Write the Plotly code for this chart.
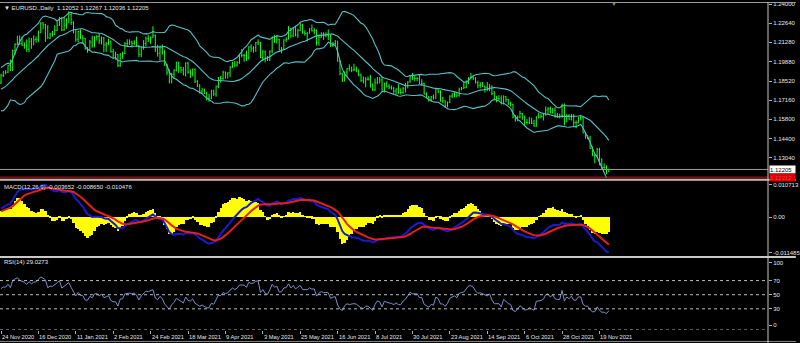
import math
import plotly.graph_objects as go

# ---------------- data (EURUSD., Daily) ----------------
# closes before the visible window (history used by the indicators only)
warmup_close = [
    1.1910, 1.1855, 1.1850, 1.1840, 1.1815, 1.1780, 1.1800, 1.1815, 1.1845, 1.1865,
    1.1845, 1.1815, 1.1850, 1.1840, 1.1770, 1.1705, 1.1660, 1.1670, 1.1630, 1.1665,
    1.1745, 1.1720,
    1.1745, 1.1715, 1.1780, 1.1735, 1.1760, 1.1765, 1.1825, 1.1815, 1.1745, 1.1745,
    1.1705, 1.1715, 1.1770, 1.1825, 1.1860, 1.1815, 1.1860, 1.1810, 1.1795, 1.1745,
    1.1675, 1.1645, 1.1640, 1.1715, 1.1720, 1.1825, 1.1875, 1.1815, 1.1810, 1.1740,
    1.1810, 1.1835, 1.1855, 1.1860, 1.1850, 1.1870, 1.1855, 1.1840,
]

# visible bars: 24 Nov 2020 ... 25 Nov 2021
bar_open = [
    1.1840, 1.1890, 1.1914, 1.1915,
    1.1962, 1.1927, 1.2071, 1.2113, 1.2146,
    1.2120, 1.2108, 1.2100, 1.2078, 1.2133,
    1.2110, 1.2147, 1.2150, 1.2197, 1.2267,
    1.2255, 1.2240, 1.2160, 1.2189,
    1.2186, 1.2214, 1.2249, 1.2297,
    1.2216, 1.2250, 1.2297, 1.2326, 1.2270,
    1.2220, 1.2150, 1.2207, 1.2160, 1.2155,
    1.2080, 1.2075, 1.2130, 1.2106, 1.2165,
    1.2170, 1.2140, 1.2160, 1.2110, 1.2120,
    1.2135, 1.2062, 1.2039, 1.2040, 1.1963,
    1.2045, 1.2050, 1.2120, 1.2120, 1.2130,
    1.2120, 1.2130, 1.2106, 1.2041, 1.2090,
    1.2120, 1.2155, 1.2150, 1.2165, 1.2175,
    1.2075, 1.2050, 1.2090, 1.2060, 1.1965,
    1.1915, 1.1850, 1.1900, 1.1930, 1.1985,
    1.1950, 1.1930, 1.1900, 1.1980, 1.1915,
    1.1905, 1.1935, 1.1850, 1.1815, 1.1780,
    1.1795, 1.1765, 1.1730, 1.1730, 1.1780,
    1.1760, 1.1815, 1.1875, 1.1870, 1.1915,
    1.1900, 1.1910, 1.1950, 1.1980, 1.1965,
    1.1985, 1.2035, 1.2035, 1.2035, 1.2015,
    1.2095, 1.2085, 1.2090, 1.2125, 1.2125,
    1.2020, 1.2060, 1.2015, 1.2005, 1.2065,
    1.2165, 1.2130, 1.2150, 1.2075, 1.2080,
    1.2145, 1.2150, 1.2225, 1.2175, 1.2225,
    1.2180, 1.2215, 1.2250, 1.2195, 1.2190,
    1.2195, 1.2225, 1.2210, 1.2215, 1.2125,
    1.2165, 1.2190, 1.2175, 1.2180, 1.2175,
    1.2105, 1.2120, 1.2125, 1.1995, 1.1905,
    1.1860, 1.1915, 1.1940, 1.1925, 1.1930,
    1.1935, 1.1925, 1.1895, 1.1857, 1.1845,
    1.1865, 1.1865, 1.1825, 1.1790, 1.1840,
    1.1875, 1.1860, 1.1775, 1.1835, 1.1815,
    1.1805, 1.1800, 1.1780, 1.1795, 1.1770,
    1.1770, 1.1800, 1.1815, 1.1845, 1.1885,
    1.1870, 1.1870, 1.1870, 1.1835, 1.1835,
    1.1760, 1.1735, 1.1720, 1.1740, 1.1730,
    1.1795, 1.1780, 1.1710, 1.1710, 1.1675,
    1.1700, 1.1745, 1.1760, 1.1770, 1.1750,
    1.1795, 1.1800, 1.1807, 1.1840, 1.1875,
    1.1880, 1.1870, 1.1840, 1.1820, 1.1825,
    1.1815, 1.1805, 1.1800, 1.1815, 1.1765,
    1.1725, 1.1727, 1.1725, 1.1690, 1.1740,
    1.1720, 1.1695, 1.1685, 1.1595, 1.1580,
    1.1595, 1.1620, 1.1595, 1.1555, 1.1555,
    1.1570, 1.1550, 1.1530, 1.1595, 1.1595,
    1.1600, 1.1610, 1.1645, 1.1655, 1.1625,
    1.1645, 1.1608, 1.1600, 1.1600, 1.1680,
    1.1560, 1.1605, 1.1580, 1.1610, 1.1555,
    1.1555, 1.1590, 1.1590, 1.1480, 1.1445,
    1.1445, 1.1370, 1.1320, 1.1320, 1.1365,
    1.1290, 1.1235, 1.1235, 1.12052,
]
bar_high = [
    1.1905, 1.1925, 1.1930, 1.1965,
    1.2005, 1.2075, 1.2122, 1.2175, 1.2178,
    1.2168, 1.2128, 1.2148, 1.2163, 1.2160,
    1.2178, 1.2170, 1.2212, 1.2273, 1.2272,
    1.2260, 1.2250, 1.2197, 1.2210,
    1.2250, 1.2276, 1.2310, 1.2310,
    1.2310, 1.2298, 1.2349, 1.2340, 1.2280,
    1.2225, 1.2210, 1.2222, 1.2180, 1.2160,
    1.2094, 1.2145, 1.2175, 1.2172, 1.2180,
    1.2190, 1.2170, 1.2166, 1.2130, 1.2155,
    1.2141, 1.2082, 1.2060, 1.2045, 1.2050,
    1.2061, 1.2130, 1.2150, 1.2150, 1.2140,
    1.2143, 1.2169, 1.2107, 1.2093, 1.2144,
    1.2170, 1.2180, 1.2170, 1.2243, 1.2185,
    1.2110, 1.2105, 1.2113, 1.2075, 1.1975,
    1.1935, 1.1910, 1.1935, 1.1990, 1.1990,
    1.1955, 1.1952, 1.1985, 1.1990, 1.1936,
    1.1942, 1.1942, 1.1858, 1.1830, 1.1800,
    1.1797, 1.1775, 1.1760, 1.1790, 1.1790,
    1.1820, 1.1880, 1.1890, 1.1925, 1.1920,
    1.1915, 1.1960, 1.1990, 1.1995, 1.1995,
    1.2048, 1.2080, 1.2045, 1.2070, 1.2100,
    1.2115, 1.2100, 1.2130, 1.2150, 1.2130,
    1.2075, 1.2070, 1.2030, 1.2070, 1.2170,
    1.2180, 1.2180, 1.2155, 1.2095, 1.2150,
    1.2165, 1.2245, 1.2230, 1.2230, 1.2245,
    1.2225, 1.2266, 1.2260, 1.2215, 1.2200,
    1.2230, 1.2255, 1.2230, 1.2220, 1.2185,
    1.2200, 1.2200, 1.2200, 1.2220, 1.2185,
    1.2130, 1.2145, 1.2140, 1.2000, 1.1912,
    1.1920, 1.1945, 1.1970, 1.1955, 1.1975,
    1.1955, 1.1935, 1.1905, 1.1885, 1.1880,
    1.1885, 1.1895, 1.1835, 1.1870, 1.1880,
    1.1880, 1.1880, 1.1840, 1.1850, 1.1830,
    1.1820, 1.1810, 1.1800, 1.1830, 1.1800,
    1.1810, 1.1840, 1.1850, 1.1895, 1.1910,
    1.1890, 1.1880, 1.1900, 1.1865, 1.1840,
    1.1770, 1.1745, 1.1745, 1.1755, 1.1800,
    1.1800, 1.1785, 1.1740, 1.1715, 1.1705,
    1.1750, 1.1765, 1.1775, 1.1775, 1.1805,
    1.1810, 1.1845, 1.1857, 1.1880, 1.1909,
    1.1885, 1.1880, 1.1855, 1.1845, 1.1845,
    1.1820, 1.1845, 1.1830, 1.1820, 1.1780,
    1.1745, 1.1750, 1.1750, 1.1750, 1.1745,
    1.1725, 1.1705, 1.1690, 1.1610, 1.1605,
    1.1640, 1.1625, 1.1605, 1.1580, 1.1595,
    1.1590, 1.1575, 1.1600, 1.1625, 1.1620,
    1.1620, 1.1670, 1.1665, 1.1670, 1.1660,
    1.1665, 1.1625, 1.1620, 1.1690, 1.1692,
    1.1615, 1.1615, 1.1615, 1.1615, 1.1570,
    1.1595, 1.1610, 1.1595, 1.1485, 1.1465,
    1.1460, 1.1385, 1.1330, 1.1375, 1.1375,
    1.1300, 1.1265, 1.1250, 1.12267,
]
bar_low = [
    1.1830, 1.1880, 1.1900, 1.1910,
    1.1925, 1.1925, 1.2040, 1.2110, 1.2110,
    1.2103, 1.2082, 1.2060, 1.2058, 1.2082,
    1.2110, 1.2125, 1.2130, 1.2195, 1.2221,
    1.2131, 1.2153, 1.2152, 1.2168,
    1.2180, 1.2209, 1.2246, 1.2208,
    1.2211, 1.2225, 1.2264, 1.2252, 1.2192,
    1.2132, 1.2130, 1.2150, 1.2117, 1.2077,
    1.2054, 1.2070, 1.2090, 1.2092, 1.2140,
    1.2116, 1.2113, 1.2058, 1.2060, 1.2107,
    1.2053, 1.2011, 1.2004, 1.1952, 1.1953,
    1.2011, 1.2045, 1.2095, 1.2110, 1.2090,
    1.2110, 1.2100, 1.2022, 1.2023, 1.2075,
    1.2100, 1.2130, 1.2115, 1.2160, 1.2060,
    1.2026, 1.2000, 1.2040, 1.1960, 1.1893,
    1.1835, 1.1836, 1.1870, 1.1920, 1.1910,
    1.1910, 1.1892, 1.1884, 1.1905, 1.1873,
    1.1885, 1.1838, 1.1808, 1.1762, 1.1760,
    1.1760, 1.1712, 1.1704, 1.1722, 1.1745,
    1.1740, 1.1800, 1.1840, 1.1860, 1.1868,
    1.1870, 1.1880, 1.1945, 1.1950, 1.1955,
    1.1975, 1.2020, 1.1990, 1.1995, 1.2005,
    1.2060, 1.2055, 1.2060, 1.2110, 1.2015,
    1.1995, 1.1985, 1.1995, 1.1995, 1.2050,
    1.2125, 1.2120, 1.2070, 1.2050, 1.2075,
    1.2130, 1.2150, 1.2160, 1.2165, 1.2170,
    1.2160, 1.2210, 1.2190, 1.2175, 1.2135,
    1.2190, 1.2205, 1.2185, 1.2105, 1.2105,
    1.2160, 1.2145, 1.2165, 1.2145, 1.2095,
    1.2095, 1.2105, 1.1990, 1.1893, 1.1845,
    1.1848, 1.1880, 1.1925, 1.1915, 1.1922,
    1.1915, 1.1885, 1.1845, 1.1835, 1.1807,
    1.1855, 1.1805, 1.1780, 1.1780, 1.1830,
    1.1835, 1.1775, 1.1770, 1.1805, 1.1795,
    1.1790, 1.1755, 1.1752, 1.1760, 1.1755,
    1.1760, 1.1770, 1.1800, 1.1840, 1.1860,
    1.1850, 1.1850, 1.1830, 1.1820, 1.1755,
    1.1730, 1.1705, 1.1705, 1.1720, 1.1725,
    1.1765, 1.1705, 1.1695, 1.1665, 1.1664,
    1.1695, 1.1730, 1.1735, 1.1735, 1.1740,
    1.1785, 1.1795, 1.1800, 1.1830, 1.1865,
    1.1860, 1.1835, 1.1800, 1.1800, 1.1810,
    1.1770, 1.1780, 1.1780, 1.1750, 1.1715,
    1.1700, 1.1715, 1.1685, 1.1685, 1.1700,
    1.1680, 1.1670, 1.1585, 1.1562, 1.1565,
    1.1585, 1.1575, 1.1530, 1.1540, 1.1545,
    1.1545, 1.1525, 1.1525, 1.1585, 1.1585,
    1.1570, 1.1605, 1.1615, 1.1620, 1.1620,
    1.1590, 1.1590, 1.1585, 1.1590, 1.1535,
    1.1560, 1.1575, 1.1570, 1.1530, 1.1515,
    1.1550, 1.1570, 1.1480, 1.1440, 1.1435,
    1.1370, 1.1315, 1.1265, 1.1305, 1.1250,
    1.1225, 1.1225, 1.1186, 1.12036,
]
bar_close = [
    1.1890, 1.1914, 1.1915, 1.1962,
    1.1927, 1.2071, 1.2113, 1.2146, 1.2120,
    1.2108, 1.2100, 1.2078, 1.2133, 1.2110,
    1.2147, 1.2150, 1.2197, 1.2267, 1.2255,
    1.2240, 1.2160, 1.2189, 1.2186,
    1.2214, 1.2249, 1.2297, 1.2216,
    1.2250, 1.2297, 1.2326, 1.2270, 1.2220,
    1.2150, 1.2207, 1.2160, 1.2155, 1.2080,
    1.2075, 1.2130, 1.2106, 1.2165, 1.2170,
    1.2140, 1.2160, 1.2110, 1.2120, 1.2135,
    1.2062, 1.2039, 1.2040, 1.1963, 1.2045,
    1.2050, 1.2120, 1.2120, 1.2130, 1.2120,
    1.2130, 1.2106, 1.2041, 1.2090, 1.2120,
    1.2155, 1.2150, 1.2165, 1.2175, 1.2075,
    1.2050, 1.2090, 1.2060, 1.1965, 1.1915,
    1.1850, 1.1900, 1.1930, 1.1985, 1.1950,
    1.1930, 1.1900, 1.1980, 1.1915, 1.1905,
    1.1935, 1.1850, 1.1815, 1.1780, 1.1795,
    1.1765, 1.1730, 1.1730, 1.1780, 1.1760,
    1.1815, 1.1875, 1.1870, 1.1915, 1.1900,
    1.1910, 1.1950, 1.1980, 1.1965, 1.1985,
    1.2035, 1.2035, 1.2035, 1.2015, 1.2095,
    1.2085, 1.2090, 1.2125, 1.2125, 1.2020,
    1.2060, 1.2015, 1.2005, 1.2065, 1.2165,
    1.2130, 1.2150, 1.2075, 1.2080, 1.2145,
    1.2150, 1.2225, 1.2175, 1.2225, 1.2180,
    1.2215, 1.2250, 1.2195, 1.2190, 1.2195,
    1.2225, 1.2210, 1.2215, 1.2125, 1.2165,
    1.2190, 1.2175, 1.2180, 1.2175, 1.2105,
    1.2120, 1.2125, 1.1995, 1.1905, 1.1860,
    1.1915, 1.1940, 1.1925, 1.1930, 1.1935,
    1.1925, 1.1895, 1.1857, 1.1845, 1.1865,
    1.1865, 1.1825, 1.1790, 1.1840, 1.1875,
    1.1860, 1.1775, 1.1835, 1.1815, 1.1805,
    1.1800, 1.1780, 1.1795, 1.1770, 1.1770,
    1.1800, 1.1815, 1.1845, 1.1885, 1.1870,
    1.1870, 1.1870, 1.1835, 1.1835, 1.1760,
    1.1735, 1.1720, 1.1740, 1.1730, 1.1795,
    1.1780, 1.1710, 1.1710, 1.1675, 1.1700,
    1.1745, 1.1760, 1.1770, 1.1750, 1.1795,
    1.1800, 1.1807, 1.1840, 1.1875, 1.1880,
    1.1870, 1.1840, 1.1820, 1.1825, 1.1815,
    1.1805, 1.1800, 1.1815, 1.1765, 1.1725,
    1.1727, 1.1725, 1.1690, 1.1740, 1.1720,
    1.1695, 1.1685, 1.1595, 1.1580, 1.1595,
    1.1620, 1.1595, 1.1555, 1.1555, 1.1570,
    1.1550, 1.1530, 1.1595, 1.1595, 1.1600,
    1.1610, 1.1645, 1.1655, 1.1625, 1.1645,
    1.1608, 1.1600, 1.1600, 1.1680, 1.1560,
    1.1605, 1.1580, 1.1610, 1.1555, 1.1555,
    1.1590, 1.1590, 1.1480, 1.1445, 1.1445,
    1.1370, 1.1320, 1.1320, 1.1365, 1.1290,
    1.1235, 1.1235, 1.1195, 1.12205,
]

# time-axis labels (bar index -> date text)
date_tick_index = [0, 16, 32, 48, 64, 80, 96, 112, 128, 144, 160, 176, 192, 208, 224, 240, 256]
date_tick_text = ["24 Nov 2020", "16 Dec 2020", "11 Jan 2021", "2 Feb 2021", "24 Feb 2021",
                  "18 Mar 2021", "9 Apr 2021", "3 May 2021", "25 May 2021", "16 Jun 2021",
                  "8 Jul 2021", "30 Jul 2021", "23 Aug 2021", "14 Sep 2021", "6 Oct 2021",
                  "28 Oct 2021", "19 Nov 2021"]

price_tick_values = [1.24000, 1.22640, 1.21280, 1.19880, 1.18520, 1.17160, 1.15800, 1.14400, 1.13040]
price_tick_text = ["1.24000", "1.22640", "1.21280", "1.19880", "1.18520", "1.17160", "1.15800", "1.14400", "1.13040"]
macd_scale_max = 0.010713
macd_scale_min = -0.011485
rsi_levels = [70, 50, 30]
bid_price = 1.12205
ask_text = "1.12212"

title_text = "EURUSD.,Daily  1.12052 1.12267 1.12036 1.12205"
macd_text = "MACD(12,26,9) -0.003652 -0.008650 -0.010476"
rsi_text = "RSI(14) 29.0273"

# ---------------- indicators (computed from the closes) ----------------
all_close = warmup_close + bar_close
n_warm = len(warmup_close)
n_bars = len(bar_close)
xs = list(range(n_bars))


def ema(series, period):
    a = 2.0 / (period + 1)
    out = [series[0]]
    for v in series[1:]:
        out.append(out[-1] + a * (v - out[-1]))
    return out


bb_mid, bb_up, bb_lo = [], [], []
for i in range(len(all_close)):
    if i < 19:
        bb_mid.append(None); bb_up.append(None); bb_lo.append(None)
        continue
    w = all_close[i - 19:i + 1]
    m = sum(w) / 20.0
    sd = math.sqrt(sum((v - m) ** 2 for v in w) / 20.0)
    bb_mid.append(m); bb_up.append(m + 2 * sd); bb_lo.append(m - 2 * sd)

e12 = ema(all_close, 12)
e26 = ema(all_close, 26)
macd_line = [a - b for a, b in zip(e12, e26)]
signal_line = ema(macd_line, 9)
hist = [2 * (a - b) for a, b in zip(macd_line, signal_line)]

rsi = [None] * len(all_close)
gains = [max(all_close[i] - all_close[i - 1], 0) for i in range(1, len(all_close))]
losses = [max(all_close[i - 1] - all_close[i], 0) for i in range(1, len(all_close))]
ag = sum(gains[:14]) / 14.0
al = sum(losses[:14]) / 14.0
rsi[14] = 100 - 100 / (1 + ag / al) if al > 0 else 100
for i in range(14, len(gains)):
    ag = (ag * 13 + gains[i]) / 14.0
    al = (al * 13 + losses[i]) / 14.0
    rsi[i + 1] = 100 - 100 / (1 + ag / al) if al > 0 else 100

vis = slice(n_warm, n_warm + n_bars)

# ---------------- figure ----------------
FONT = "Liberation Sans"
TXT = "#e6e6e6"
BB_COLOR = "#55c0c8"

fig = go.Figure()
fig.add_trace(go.Scatter(x=xs, y=bb_up[vis], mode="lines", line=dict(color=BB_COLOR, width=1.1), yaxis="y", hoverinfo="skip"))
fig.add_trace(go.Scatter(x=xs, y=bb_mid[vis], mode="lines", line=dict(color=BB_COLOR, width=1.1), yaxis="y", hoverinfo="skip"))
fig.add_trace(go.Scatter(x=xs, y=bb_lo[vis], mode="lines", line=dict(color=BB_COLOR, width=1.1), yaxis="y", hoverinfo="skip"))
fig.add_trace(go.Ohlc(x=xs, open=bar_open, high=bar_high, low=bar_low, close=bar_close,
                      increasing=dict(line=dict(color="#19ff19", width=1)),
                      decreasing=dict(line=dict(color="#19ff19", width=1)),
                      tickwidth=0.3, yaxis="y", hoverinfo="skip"))

fig.add_trace(go.Bar(x=xs, y=hist[vis], marker=dict(color="#ffff00", line=dict(width=0)),
                     width=1.0, yaxis="y2", hoverinfo="skip"))
fig.add_trace(go.Scatter(x=xs, y=macd_line[vis], mode="lines", line=dict(color="#1a1ad0", width=2), yaxis="y2", hoverinfo="skip"))
fig.add_trace(go.Scatter(x=xs, y=signal_line[vis], mode="lines", line=dict(color="#e61e1e", width=2), yaxis="y2", hoverinfo="skip"))

fig.add_trace(go.Scatter(x=xs, y=rsi[vis], mode="lines", line=dict(color="#7e8ec8", width=1), yaxis="y3", hoverinfo="skip"))

PLOT_H = 330.0


def py(px):
    return (PLOT_H - px) / PLOT_H


axis_common = dict(showgrid=False, zeroline=False, side="right", anchor="x", ticks="outside",
                   ticklen=3, tickcolor="#b0b0b0", tickfont=dict(family=FONT, size=6, color=TXT),
                   showline=False, fixedrange=True, ticklabeloverflow="allow")

shapes = []
for lv in rsi_levels + [0]:
    shapes.append(dict(type="line", xref="paper", x0=0, x1=1, yref="y3", y0=lv, y1=lv,
                       line=dict(color="#bdbdbd", width=1, dash="dot")))
# bid line
shapes.append(dict(type="line", xref="paper", x0=0, x1=1, yref="y", y0=bid_price, y1=bid_price,
                   line=dict(color="#9a9a9a", width=1)))
# red line and window separators
shapes.append(dict(type="line", xref="paper", x0=0, x1=1, yref="paper", y0=py(176.2), y1=py(176.2),
                   line=dict(color="#c81818", width=1)))
shapes.append(dict(type="line", xref="paper", x0=0, x1=800 / 772, yref="paper", y0=py(178.8), y1=py(178.8),
                   line=dict(color="#d2b4b4", width=2)))
shapes.append(dict(type="line", xref="paper", x0=0, x1=800 / 772, yref="paper", y0=py(256.6), y1=py(256.6),
                   line=dict(color="#c8c8c8", width=2)))
shapes.append(dict(type="line", xref="paper", x0=0, x1=800 / 772, yref="paper", y0=py(0.5), y1=py(0.5),
                   line=dict(color="#9c9c9c", width=1)))
shapes.append(dict(type="line", xref="paper", x0=0, x1=800 / 772, yref="paper", y0=py(341.5), y1=py(341.5),
                   line=dict(color="#8c8c8c", width=1)))
# right scale line
shapes.append(dict(type="line", xref="paper", x0=1, x1=1, yref="paper", y0=py(343), y1=1,
                   line=dict(color="#c8c8c8", width=1)))

annotations = []
for idx, txt in zip(date_tick_index, date_tick_text):
    annotations.append(dict(x=idx, xref="x", y=0, yref="paper", yshift=-2, xshift=-1, text=txt, showarrow=False,
                            xanchor="left", yanchor="top", font=dict(family=FONT, size=5.7, color=TXT)))
annotations.append(dict(x=0, xref="paper", xshift=2, y=py(6), yref="paper", text="\u25bc " + title_text,
                        showarrow=False, xanchor="left", yanchor="middle", font=dict(family=FONT, size=6, color=TXT)))
annotations.append(dict(x=0, xref="paper", xshift=2, y=py(186), yref="paper", text=macd_text,
                        showarrow=False, xanchor="left", yanchor="middle", font=dict(family=FONT, size=6, color=TXT)))
annotations.append(dict(x=0, xref="paper", xshift=2, y=py(262), yref="paper", text=rsi_text,
                        showarrow=False, xanchor="left", yanchor="middle", font=dict(family=FONT, size=6, color=TXT)))
annotations.append(dict(x=617 / 772, xref="paper", y=py(2.5), yref="paper", text="\u25bc",
                        showarrow=False, xanchor="center", yanchor="middle", font=dict(family=FONT, size=6, color="#8a8a8a")))
annotations.append(dict(x=1, xref="paper", xshift=1, y=bid_price, yref="y", text="1.12205",
                        showarrow=False, xanchor="left", yanchor="middle", bgcolor="#ffffff", width=25,
                        height=7, borderpad=0, align="left", font=dict(family=FONT, size=6, color="#000000")))
annotations.append(dict(x=1, xref="paper", xshift=1, y=py(176.2), yref="paper", text=ask_text,
                        showarrow=False, xanchor="left", yanchor="middle", bgcolor="#dc0000", width=25,
                        height=7, borderpad=0, align="left", font=dict(family=FONT, size=6, color="#f04040")))

# MACD labels slightly inside the window edges, like the terminal does
macd_span = macd_scale_max - macd_scale_min
macd_px = 75.0
macd_top_label = macd_scale_max - 3.3 / macd_px * macd_span
macd_bot_label = macd_scale_max - 71.5 / macd_px * macd_span

fig.update_layout(
    width=800, height=343,
    margin=dict(l=0, r=28, t=0, b=13, pad=0),
    paper_bgcolor="#000000", plot_bgcolor="#000000",
    showlegend=False, bargap=0, hovermode=False,
    xaxis=dict(domain=[0, 1], range=[-0.43, 328.1], anchor="y3", showgrid=False, zeroline=False,
               showticklabels=False, ticks="outside", ticklen=3, tickcolor="#b0b0b0",
               tickvals=date_tick_index, rangeslider=dict(visible=False), showline=False, fixedrange=True),
    yaxis=dict(domain=[py(177), py(1)], range=[1.11601, 1.24092],
               tickvals=price_tick_values, ticktext=price_tick_text, **axis_common),
    yaxis2=dict(domain=[py(255.5), py(180.5)], range=[macd_scale_min, macd_scale_max],
                tickvals=[macd_top_label, 0, macd_bot_label],
                ticktext=["0.010713", "0.00", "-0.011485"], **axis_common),
    yaxis3=dict(domain=[0, py(259)], range=[0, 100],
                tickvals=[95.5, 70, 50, 30, 7], ticktext=["100", "70", "50", "30", "0"], **axis_common),
    shapes=shapes, annotations=annotations,
)

fig.write_html("out.html")
